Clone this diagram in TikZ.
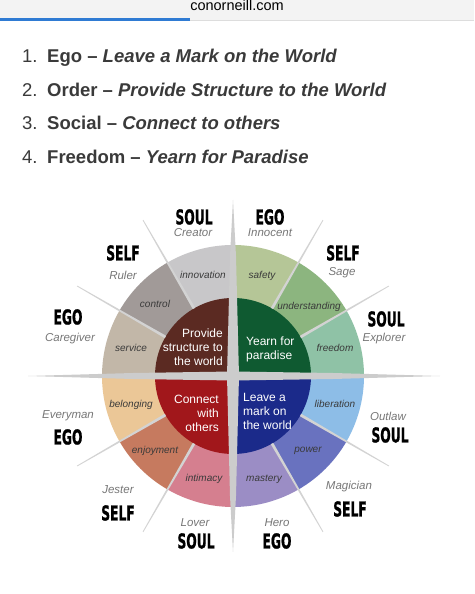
\documentclass[tikz,border=0pt]{standalone}
\usepackage{fontspec}
\setmainfont{Liberation Sans}
\newfontfamily\tagfont{DejaVu Sans}[BoldFeatures={FakeBold=1.2}]
\usepackage{tikz}

\definecolor{bargray}{HTML}{F3F3F3}
\definecolor{barline}{HTML}{DDDDDD}
\definecolor{barblue}{HTML}{2F7BD3}
\definecolor{listgray}{HTML}{3A3A3A}
\definecolor{rolegray}{HTML}{777777}
\definecolor{segtext}{HTML}{3A3A3A}
\definecolor{spokegray}{HTML}{D3D3D3}
\definecolor{crossgray}{HTML}{CCCCCC}
% outer ring
\definecolor{innov}{HTML}{C8C7C9}
\definecolor{ctrl}{HTML}{A19A98}
\definecolor{serv}{HTML}{C2B7A8}
\definecolor{belong}{HTML}{EBC797}
\definecolor{enjoy}{HTML}{C67A5F}
\definecolor{intim}{HTML}{D57F8F}
\definecolor{master}{HTML}{9B8DC5}
\definecolor{power}{HTML}{6972BF}
\definecolor{liber}{HTML}{8DBDE7}
\definecolor{freed}{HTML}{8FC2A6}
\definecolor{underst}{HTML}{8CB57F}
\definecolor{safe}{HTML}{B5C697}
% inner quadrants
\definecolor{structbrown}{HTML}{5B2A22}
\definecolor{yearngreen}{HTML}{0F5A31}
\definecolor{connectred}{HTML}{A1171B}
\definecolor{markblue}{HTML}{1B2A8A}

\newcommand{\bigtag}[1]{\scalebox{0.6}[1]{\tagfont\bfseries\fontsize{20.5}{20.5}\selectfont #1}}

\begin{document}
\begin{tikzpicture}[x=1pt,y=1pt,
    listline/.style={anchor=base west, inner sep=0pt, text=listgray, font=\fontsize{18.5}{18.5}\selectfont},
    seglabel/.style={inner sep=0pt, text=segtext, font=\itshape\fontsize{10}{10}\selectfont},
    rolelabel/.style={inner sep=0pt, text=rolegray, font=\itshape\fontsize{11.5}{11.5}\selectfont},
    tag/.style={inner sep=0pt, text=black},
    core/.style={inner sep=0pt, text=white, font=\fontsize{12}{14}\selectfont}]
  \useasboundingbox (0,0) rectangle (474,594);
  \fill[white] (0,0) rectangle (474,594);

  % browser bar
  \fill[bargray] (0,574) rectangle (474,594);
  \fill[barline] (0,572.5) rectangle (474,574);
  \fill[barblue] (0,572.5) rectangle (190,575.5);
  \node[anchor=base, inner sep=0pt, font=\fontsize{14.5}{14.5}\selectfont] (site) at (237,583) {conorneill.com};

  % the list
  \foreach \key/\aim [count=\i] in {Ego/Leave a Mark on the World, Order/Provide Structure to the World,
      Social/Connect to others, Freedom/Yearn for Paradise} {
    \pgfmathsetmacro\ybase{531-(\i-1)*33.4}
    \node[listline] (num\i) at (22,\ybase) {\i.};
    \node[listline] (item\i) at (47,\ybase) {\textbf{\key{} -- \textit{\aim}}};
  }

  % wheel
  \coordinate (c) at (233,218);
  \foreach \a/\col in {90/innov, 120/ctrl, 150/serv, 180/belong, 210/enjoy, 240/intim,
      270/master, 300/power, 330/liber, 0/freed, 30/underst, 60/safe} {
    \fill[\col] (c) -- ++(\a:131pt) arc[start angle=\a, end angle=\a+30, radius=131pt] -- cycle;
  }
  \foreach \a/\col in {90/structbrown, 0/yearngreen, 180/connectred, 270/markblue} {
    \fill[\col] (c) -- ++(\a:78pt) arc[start angle=\a, end angle=\a+90, radius=78pt] -- cycle;
  }
  \foreach \a in {30,60,120,150,210,240,300,330} {
    \fill[spokegray, shift={(c)}, rotate=\a] (78,1.4) -- (180,0.4) -- (180,-0.4) -- (78,-1.4) -- cycle;
  }
  \fill[crossgray, shift={(c)}] (-205,0) -- (-100,3) -- (0,4.5) -- (100,3) -- (207,0)
    -- (100,-3) -- (0,-4.5) -- (-100,-3) -- cycle;
  \fill[crossgray, shift={(c)}] (0,176) -- (3,120) -- (6,0) -- (3,-120) -- (0,-176)
    -- (-3,-120) -- (-6,0) -- (-3,120) -- cycle;

  % core texts
  \node[core, align=right, anchor=east] (structure) at (223,247) {Provide\\structure to\\the world};
  \node[core, align=left, anchor=west] (paradise) at (246,245) {Yearn for\\paradise};
  \node[core, align=right, anchor=east] (connect) at (219,181) {Connect\\with\\others};
  \node[core, align=left, anchor=west] (mark) at (243,183) {Leave a\\mark on\\the world};

  % ring texts
  \node[seglabel] (innovation) at (203,319) {innovation};
  \node[seglabel] (control) at (155,290) {control};
  \node[seglabel] (service) at (131,246) {service};
  \node[seglabel] (safety) at (262,318) {safety};
  \node[seglabel] (understanding) at (309,287) {understanding};
  \node[seglabel] (freedom) at (335,246) {freedom};
  \node[seglabel] (liberation) at (335,190) {liberation};
  \node[seglabel] (power) at (308,143) {power};
  \node[seglabel] (mastery) at (264,115) {mastery};
  \node[seglabel] (intimacy) at (204,115) {intimacy};
  \node[seglabel] (enjoyment) at (155,143) {enjoyment};
  \node[seglabel] (belonging) at (131,189) {belonging};

  % outer roles
  \node[tag] (soulA) at (194,377) {\bigtag{SOUL}};
  \node[rolelabel] (creator) at (193,361) {Creator};
  \node[tag] (egoA) at (270,377) {\bigtag{EGO}};
  \node[rolelabel] (innocent) at (270,361) {Innocent};
  \node[tag] (selfA) at (123,341) {\bigtag{SELF}};
  \node[rolelabel] (ruler) at (123,319) {Ruler};
  \node[tag] (selfB) at (343,341) {\bigtag{SELF}};
  \node[rolelabel] (sage) at (342,321) {Sage};
  \node[tag] (egoB) at (68,277) {\bigtag{EGO}};
  \node[rolelabel] (caregiver) at (70,255) {Caregiver};
  \node[tag] (soulB) at (386,275) {\bigtag{SOUL}};
  \node[rolelabel] (explorer) at (384,255) {Explorer};
  \node[rolelabel] (everyman) at (68,178) {Everyman};
  \node[tag] (egoC) at (68,157) {\bigtag{EGO}};
  \node[rolelabel] (outlaw) at (388,178) {Outlaw};
  \node[tag] (soulC) at (390,159) {\bigtag{SOUL}};
  \node[rolelabel] (jester) at (118,104) {Jester};
  \node[tag] (selfC) at (118,81) {\bigtag{SELF}};
  \node[rolelabel] (magician) at (349,107) {Magician};
  \node[tag] (selfD) at (350,85) {\bigtag{SELF}};
  \node[rolelabel] (lover) at (195,71) {Lover};
  \node[tag] (soulD) at (196,53) {\bigtag{SOUL}};
  \node[rolelabel] (hero) at (277,71) {Hero};
  \node[tag] (egoD) at (277,53) {\bigtag{EGO}};
\end{tikzpicture}
\end{document}
